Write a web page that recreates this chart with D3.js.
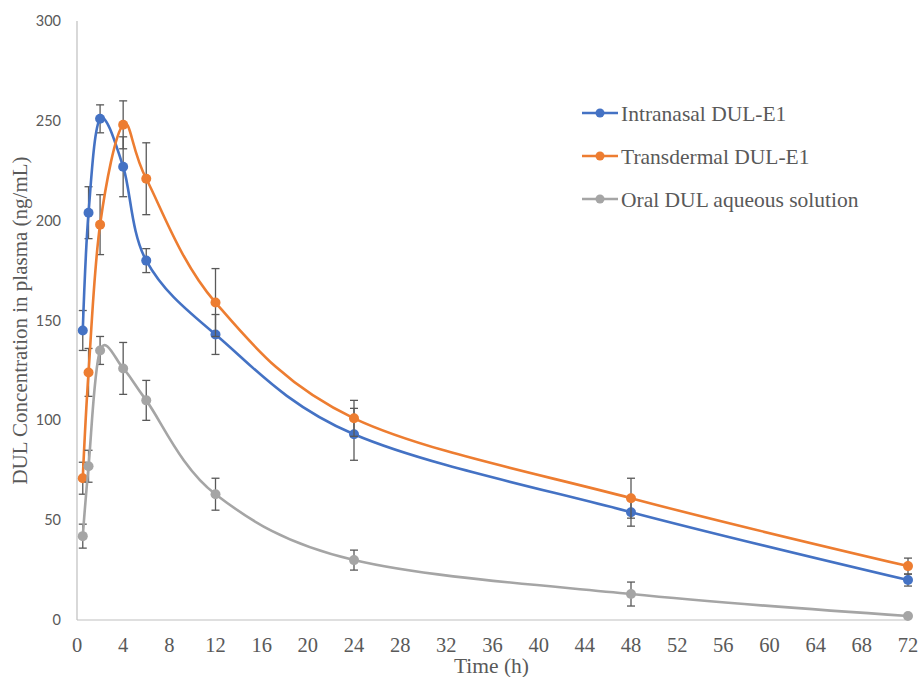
<!DOCTYPE html>
<html>
<head>
<meta charset="utf-8">
<script src="https://cdn.jsdelivr.net/npm/d3@7"></script>
<style>
  body { margin: 0; background: #fff; }
  svg { display: block; }
</style>
</head>
<body>
<div id="chart"></div>
<script>
// data
const times = [0.5, 1, 2, 4, 6, 12, 24, 48, 72];
const seriesNames = ["Intranasal DUL-E1", "Transdermal DUL-E1", "Oral DUL aqueous solution"];
const intranasal = [145, 204, 251, 227, 180, 143, 93, 54, 20];
const intranasalErr = [10, 13, 7, 15, 6, 10, 13, 7, 3];
const transdermal = [71, 124, 198, 248, 221, 159, 101, 61, 27];
const transdermalErr = [8, 12, 15, 12, 18, 17, 9, 10, 4];
const oral = [42, 77, 135, 126, 110, 63, 30, 13, 2];
const oralErr = [6, 8, 7, 13, 10, 8, 5, 6, 1];
const xTicks = d3.range(0, 73, 4);
const yTicks = [0, 50, 100, 150, 200, 250, 300];

const colors = ["#4472C4", "#ED7D31", "#A5A5A5"];
const values = [intranasal, transdermal, oral];
const errors = [intranasalErr, transdermalErr, oralErr];

const width = 921, height = 677;
const margin = { top: 21, right: 13, bottom: 57, left: 77 };
const serif = "'Liberation Serif', 'Times New Roman', serif";

const svg = d3.select("#chart").append("svg")
  .attr("width", width)
  .attr("height", height);

const x = d3.scaleLinear().domain([0, 72]).range([margin.left, width - margin.right]);
const y = d3.scaleLinear().domain([0, 300]).range([height - margin.bottom, margin.top]);

// axes lines
svg.append("line")
  .attr("x1", x(0)).attr("x2", x(72))
  .attr("y1", y(0)).attr("y2", y(0))
  .attr("stroke", "#bfbfbf").attr("stroke-width", 1.2);
svg.append("line")
  .attr("x1", x(0)).attr("x2", x(0))
  .attr("y1", y(0)).attr("y2", y(300))
  .attr("stroke", "#bfbfbf").attr("stroke-width", 1.2);

// tick labels
svg.append("g").selectAll("text").data(yTicks).join("text")
  .attr("x", x(0) - 16)
  .attr("y", (d) => y(d))
  .attr("dy", "0.35em")
  .attr("text-anchor", "end")
  .attr("font-family", "Lato, 'Open Sans', sans-serif")
  .attr("font-size", 14.5)
  .attr("fill", "#595959")
  .text((d) => d);

svg.append("g").selectAll("text").data(xTicks).join("text")
  .attr("x", (d) => x(d))
  .attr("y", 652)
  .attr("text-anchor", "middle")
  .attr("font-family", serif)
  .attr("font-size", 20.5)
  .attr("fill", "#595959")
  .text((d) => d);

// axis titles
svg.append("text")
  .attr("x", (x(0) + x(72)) / 2 - 1)
  .attr("y", 672.5)
  .attr("text-anchor", "middle")
  .attr("font-family", serif)
  .attr("font-size", 21.5)
  .attr("fill", "#595959")
  .text("Time (h)");

svg.append("text")
  .attr("transform", `translate(27,${(y(0) + y(300)) / 2}) rotate(-90)`)
  .attr("text-anchor", "middle")
  .attr("font-family", serif)
  .attr("font-size", 21)
  .attr("fill", "#595959")
  .text("DUL Concentration in plasma (ng/mL)");

const line = d3.line()
  .x((d) => x(d[0]))
  .y((d) => y(d[1]))
  .curve(d3.curveCardinal.tension(0));

const capW = 4;

values.forEach((vals, i) => {
  const pts = times.map((t, j) => [t, vals[j], errors[i][j]]);
  const g = svg.append("g");

  // error bars
  const eb = g.append("g").attr("stroke", "#595959").attr("stroke-width", 1.3);
  pts.forEach((p) => {
    eb.append("line")
      .attr("x1", x(p[0])).attr("x2", x(p[0]))
      .attr("y1", y(p[1] - p[2])).attr("y2", y(p[1] + p[2]));
    [p[1] - p[2], p[1] + p[2]].forEach((v) => {
      eb.append("line")
        .attr("x1", x(p[0]) - capW).attr("x2", x(p[0]) + capW)
        .attr("y1", y(v)).attr("y2", y(v));
    });
  });

  g.append("path")
    .datum(pts)
    .attr("fill", "none")
    .attr("stroke", colors[i])
    .attr("stroke-width", 2.6)
    .attr("d", line);

  g.selectAll("circle").data(pts).join("circle")
    .attr("cx", (d) => x(d[0]))
    .attr("cy", (d) => y(d[1]))
    .attr("r", 5)
    .attr("fill", colors[i]);
});

// legend
const legend = svg.append("g");
seriesNames.forEach((name, i) => {
  const ly = 113 + i * 43;
  legend.append("line")
    .attr("x1", 582).attr("x2", 618)
    .attr("y1", ly).attr("y2", ly)
    .attr("stroke", colors[i]).attr("stroke-width", 2.6);
  legend.append("circle")
    .attr("cx", 600).attr("cy", ly).attr("r", 4.5)
    .attr("fill", colors[i]);
  legend.append("text")
    .attr("x", 621).attr("y", ly)
    .attr("dy", "0.35em")
    .attr("font-family", serif)
    .attr("font-size", 21.5)
    .attr("fill", "#595959")
    .text(name);
});
</script>
</body>
</html>
